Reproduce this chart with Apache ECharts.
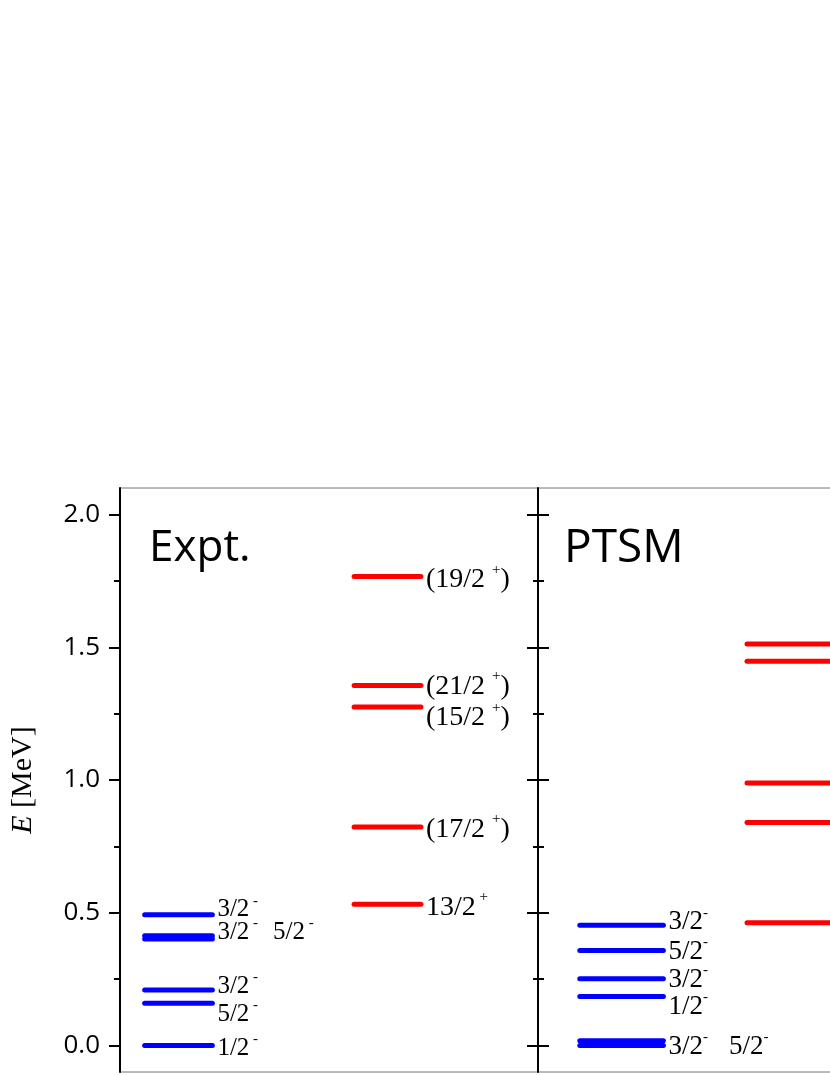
<!DOCTYPE html>
<html>
<head>
<meta charset="utf-8">
<style>
  html, body { margin: 0; padding: 0; background: #fff; }
  #main { width: 830px; height: 1075px; }
</style>
<script src="https://cdn.jsdelivr.net/npm/echarts@6/dist/echarts.min.js"></script>
</head>
<body>
<div id="main"></div>
<script>
// level energies (MeV) and spins
var exptNegE = [0.000, 0.159, 0.209, 0.401, 0.413, 0.492];
var exptNegJ = ['1/2-', '5/2-', '3/2-', '3/2-', '5/2-', '3/2-'];
var exptPosE = [0.532, 0.823, 1.275, 1.356, 1.767];
var exptPosJ = ['13/2+', '(17/2+)', '(15/2+)', '(21/2+)', '(19/2+)'];
var ptsmNegE = [0.000, 0.018, 0.184, 0.251, 0.358, 0.453];
var ptsmNegJ = ['3/2-', '5/2-', '1/2-', '3/2-', '5/2-', '3/2-'];
var ptsmPosE = [0.462, 0.840, 0.989, 1.447, 1.512];

var yTicks = [0, 0.5, 1.0, 1.5, 2.0];
var yMinorTicks = [0.25, 0.75, 1.25, 1.75];

// label nudges (px), same order as the energies
var exptNegDy = [2.5, 10.7, -4, -7, 0, -5];
var exptPosDy = [3, 2.5, 11, 1, 3.5];
var ptsmNegDy = [1.5, 0, 10, 1, 1, -3];

var BLUE = '#0000ff';
var RED = '#ff0000';
var SERIF = 'Liberation Serif';

// "(19/2+)" -> rich text with a raised parity sign
function jLabel(j, tight) {
  var m = /^(\(?)(\d+\/\d+)([+-])(\)?)$/.exec(j);
  var s = '{n|' + m[1] + m[2] + (m[4] ? ' ' : '') + '}';
  s += '{s|' + (tight || m[4] ? '' : ' ') + m[3] + '}';
  if (m[4]) s += '{n|' + m[4] + '}';
  return s;
}

function levelSeries(gi, E, J, dy, color, xs, fontSize, tight) {
  var labels = [];
  if (J) {
    labels = J.map(function (j) { return jLabel(j, tight); });
    // nearly degenerate levels share one label
    for (var i = 0; i < E.length - 1; i++) {
      if (E[i + 1] - E[i] < 0.02) {
        labels[i] = labels[i] + '{g| }' + labels[i + 1];
        labels[i + 1] = '';
        i++;
      }
    }
  }
  return E.map(function (e, i) {
    var txt = labels[i] || '';
    return {
      type: 'line',
      xAxisIndex: gi,
      yAxisIndex: gi === 0 ? 0 : 2,
      data: [[xs[0], e], [xs[1], e]],
      symbol: 'none',
      silent: true,
      lineStyle: { color: color, width: 5, cap: 'round' },
      endLabel: {
        show: txt !== '',
        formatter: txt,
        distance: 5,
        offset: [0, dy ? dy[i] : 0],
        rich: {
          n: { fontFamily: SERIF, fontSize: fontSize, color: '#000' },
          s: { fontFamily: SERIF, fontSize: 15, color: '#000', verticalAlign: 'top', height: 8 },
          g: { fontFamily: SERIF, fontSize: fontSize, width: tight ? 21 : 15 }
        }
      }
    };
  });
}

var tickStyle = { color: '#000', width: 2 };

var option = {
  animation: false,
  backgroundColor: '#fff',
  title: [
    { text: 'Expt.', left: 144, top: 521, textStyle: { fontFamily: 'Open Sans', fontWeight: 'normal', fontSize: 44, color: '#000' } },
    { text: 'PTSM', left: 559, top: 521, textStyle: { fontFamily: 'Open Sans', fontWeight: 'normal', fontSize: 46, color: '#000' } }
  ],
  grid: [
    { left: 120, top: 488, width: 418, height: 584, outerBoundsMode: 'none', show: true, borderColor: '#777', borderWidth: 1 },
    { left: 538, top: 488, width: 418, height: 584, outerBoundsMode: 'none', show: true, borderColor: '#777', borderWidth: 1 }
  ],
  xAxis: [
    { gridIndex: 0, type: 'value', min: 0, max: 100, show: false },
    { gridIndex: 1, type: 'value', min: 0, max: 100, show: false }
  ],
  yAxis: [
    {
      gridIndex: 0, type: 'value', position: 'left', min: -0.1, max: 2.1,
      name: '{i|E} [MeV]', nameLocation: 'middle', nameGap: 82,
      nameTextStyle: {
        fontFamily: SERIF, fontSize: 30, color: '#000',
        rich: { i: { fontFamily: SERIF, fontSize: 30, fontStyle: 'italic', color: '#000' } }
      },
      axisLine: { show: true, onZero: false, lineStyle: tickStyle },
      axisTick: { show: true, length: 11, lineStyle: tickStyle, customValues: yTicks },
      axisLabel: {
        customValues: yTicks, margin: 20, color: '#000', fontFamily: 'Open Sans', fontSize: 26,
        formatter: function (v) { return v.toFixed(1); }
      },
      splitLine: { show: false }
    },
    {
      gridIndex: 0, type: 'value', position: 'left', min: -0.1, max: 2.1,
      axisLine: { show: false, onZero: false },
      axisTick: { show: true, length: 6, lineStyle: tickStyle, customValues: yMinorTicks },
      axisLabel: { show: false }, splitLine: { show: false }
    },
    {
      gridIndex: 1, type: 'value', position: 'left', min: -0.1, max: 2.1,
      axisLine: { show: true, onZero: false, lineStyle: tickStyle },
      axisTick: { show: false }, axisLabel: { show: false }, splitLine: { show: false }
    },
    {
      gridIndex: 1, type: 'value', position: 'left', min: -0.1, max: 2.1, offset: -11,
      axisLine: { show: false, onZero: false },
      axisTick: { show: true, length: 22, lineStyle: tickStyle, customValues: yTicks },
      axisLabel: { show: false }, splitLine: { show: false }
    },
    {
      gridIndex: 1, type: 'value', position: 'left', min: -0.1, max: 2.1, offset: -6,
      axisLine: { show: false, onZero: false },
      axisTick: { show: true, length: 11, lineStyle: tickStyle, customValues: yMinorTicks },
      axisLabel: { show: false }, splitLine: { show: false }
    }
  ],
  series: [].concat(
    levelSeries(0, exptNegE, exptNegJ, exptNegDy, BLUE, [5.9, 22.1], 25, false),
    levelSeries(0, exptPosE, exptPosJ, exptPosDy, RED, [56, 72], 28, false),
    levelSeries(1, ptsmNegE, ptsmNegJ, ptsmNegDy, BLUE, [10, 30], 27, true),
    levelSeries(1, ptsmPosE, null, null, RED, [50, 71], 27, true)
  )
};

var chart = echarts.init(document.getElementById('main'));
chart.setOption(option);
</script>
</body>
</html>
